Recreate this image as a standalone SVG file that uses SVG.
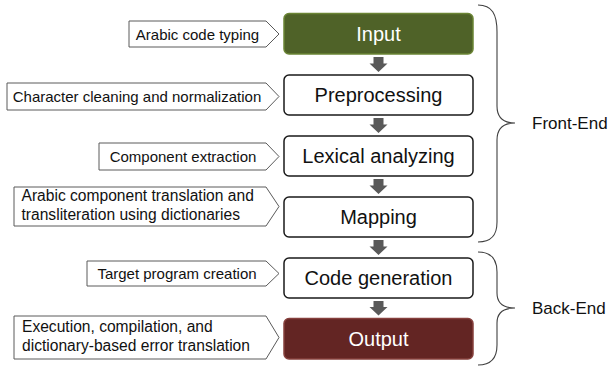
<svg xmlns="http://www.w3.org/2000/svg" width="611" height="369" viewBox="0 0 611 369">
<style>
.box{fill:#fff;stroke:#1a1a1a;stroke-width:1.5}
.bt{font-family:"Liberation Sans",Arial,sans-serif;font-size:20px;fill:#111;text-anchor:middle}
.wt{fill:#fff}
.co{fill:#fff;stroke:#5a5a5a;stroke-width:1}
.ct{font-family:"Liberation Sans",Arial,sans-serif;font-size:15px;fill:#111}
.c2{font-size:15.6px}
.cm{text-anchor:middle}
.arr{fill:#595959}
.br{fill:none;stroke:#404040;stroke-width:1.1}
.lb{font-family:"Liberation Sans",Arial,sans-serif;font-size:17px;fill:#111}
</style>
<rect width="611" height="369" fill="#fff"/>

<g id="callout-input">
<polygon class="co" points="129,21 266,21 279,34 266,47 129,47"/>
<text class="ct cm" x="197.5" y="39.5">Arabic code typing</text>
</g>
<g id="callout-preprocessing">
<polygon class="co" points="7,83 266,83 279,96.5 266,110 7,110"/>
<text class="ct cm" x="137" y="102">Character cleaning and normalization</text>
</g>
<g id="callout-lexical">
<polygon class="co" points="99,143 266,143 279,156.5 266,170 99,170"/>
<text class="ct cm" x="183" y="162">Component extraction</text>
</g>
<g id="callout-mapping">
<polygon class="co" points="14,187 266,187 279,206.5 266,226 14,226"/>
<text class="ct c2" x="21.5" y="201">Arabic component translation and</text>
<text class="ct c2" x="21.5" y="220">transliteration using dictionaries</text>
</g>
<g id="callout-codegen">
<polygon class="co" points="87,261 266,261 279,273.5 266,286 87,286"/>
<text class="ct cm" x="177" y="279">Target program creation</text>
</g>
<g id="callout-output">
<polygon class="co" points="14,316 266,316 279,337.5 266,359 14,359"/>
<text class="ct c2" x="22" y="332">Execution, compilation, and</text>
<text class="ct c2" x="22" y="351">dictionary-based error translation</text>
</g>

<g id="input">
<rect x="284" y="13.5" width="189" height="40.5" rx="5" fill="#4F6228" stroke="#6B8535" stroke-width="1.5"/>
<text class="bt wt" x="378.5" y="40.5">Input</text>
</g>
<g id="preprocessing">
<rect class="box" x="284" y="75" width="189" height="40" rx="5"/>
<text class="bt" x="378.5" y="102">Preprocessing</text>
</g>
<g id="lexical">
<rect class="box" x="284" y="136" width="189" height="40" rx="5"/>
<text class="bt" x="378.5" y="163">Lexical analyzing</text>
</g>
<g id="mapping">
<rect class="box" x="284" y="197" width="189" height="40" rx="5"/>
<text class="bt" x="378.5" y="224">Mapping</text>
</g>
<g id="codegen">
<rect class="box" x="284" y="258" width="189" height="40" rx="5"/>
<text class="bt" x="378.5" y="285">Code generation</text>
</g>
<g id="output">
<rect x="284" y="318.5" width="189" height="40.5" rx="5" fill="#632523" stroke="#86403D" stroke-width="1.5"/>
<text class="bt wt" x="378.5" y="345.5">Output</text>
</g>

<g id="connectors">
<polygon class="arr" points="373.5,57 383.5,57 383.5,63.5 387.5,63.5 378.5,72 369.5,63.5 373.5,63.5"/>
<polygon class="arr" points="373.5,118 383.5,118 383.5,124.5 387.5,124.5 378.5,133 369.5,124.5 373.5,124.5"/>
<polygon class="arr" points="373.5,179 383.5,179 383.5,185.5 387.5,185.5 378.5,194 369.5,185.5 373.5,185.5"/>
<polygon class="arr" points="373.5,240 383.5,240 383.5,246.5 387.5,246.5 378.5,255 369.5,246.5 373.5,246.5"/>
<polygon class="arr" points="373.5,301 383.5,301 383.5,307 387.5,307 378.5,315.5 369.5,307 373.5,307"/>
</g>

<g id="front-end">
<path class="br" d="M478,5 C492,5 497,14 497,32 L497,106 C497,118 503,123 515,123 C503,123 497,128 497,140 L497,222 C497,236 491,242 478,242"/>
<text class="lb" x="532" y="129">Front-End</text>
</g>
<g id="back-end">
<path class="br" d="M478,252 C491,252 497,259 497,272 L497,293 C497,303 503,308 515,308 C503,308 497,313 497,323 L497,345 C497,358 491,365 478,365"/>
<text class="lb" x="532" y="314">Back-End</text>
</g>
</svg>
